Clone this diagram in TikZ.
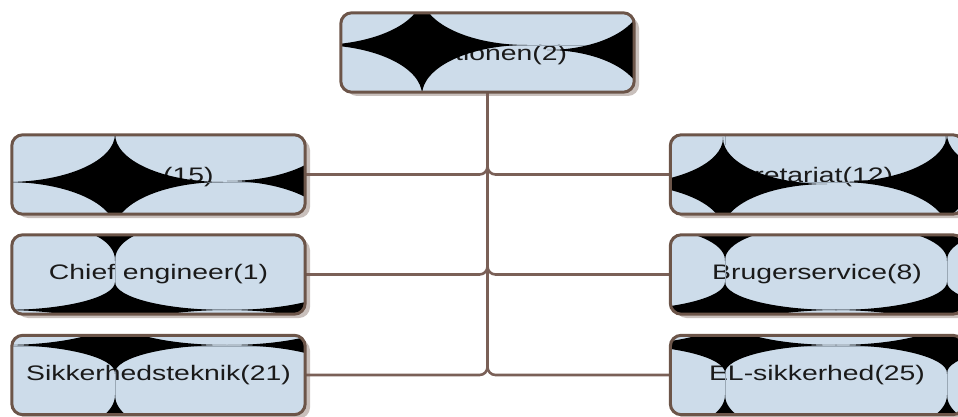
\documentclass[tikz,border=0pt]{standalone}
\usepackage{fontspec}
\setmainfont[FakeStretch=1.35]{Liberation Sans}
\usetikzlibrary{shadows}
\definecolor{boxblue}{HTML}{CDDCEA}
\definecolor{bordc}{HTML}{6C5549}
\definecolor{connc}{HTML}{7A6057}
\definecolor{shadc}{HTML}{C9C0BC}
\definecolor{thinc}{HTML}{9AA8B5}
\definecolor{textc}{HTML}{1A1A1A}
\newcommand\gapstar[4]{%
  \begin{scope}
    \clip ({#1-#3},{#2-#4}) rectangle ({#1+#3},{#2+#4});
    \fill[black, even odd rule] ({#1-#3-4},{#2-#4-4}) rectangle ({#1+#3+4},{#2+#4+4})
      ({#1-#3},{#2-#4}) ellipse [x radius=#3pt, y radius=#4pt]
      ({#1+#3},{#2-#4}) ellipse [x radius=#3pt, y radius=#4pt]
      ({#1-#3},{#2+#4}) ellipse [x radius=#3pt, y radius=#4pt]
      ({#1+#3},{#2+#4}) ellipse [x radius=#3pt, y radius=#4pt];
  \end{scope}}
\begin{document}
\begin{tikzpicture}[x=1pt,y=-1pt,
  boxnode/.style={rectangle, rounded corners=11pt, fill=boxblue, minimum width=293pt,
    minimum height=79pt, inner sep=0pt,
    drop shadow={shadow xshift=5pt, shadow yshift=-4pt, fill=shadc, opacity=1},
    font=\fontsize{21}{25}\selectfont, text=textc},
  lbl/.style={anchor=west, inner sep=0pt, font=\fontsize{21}{25}\selectfont, text=textc},
  conn/.style={draw=connc, line width=2.6pt, rounded corners=8pt},
  border/.style={draw=bordc, line width=3pt, rounded corners=11pt},
  thin/.style={draw=thinc, line width=0.6pt}]
\useasboundingbox (0,0) rectangle (958,417);

% boxes
\node[boxnode] (top) at (487.5,52.5) {};
\node[boxnode] (l1) at (158.5,174.5) {};
\node[boxnode] (r1) at (817,174.5) {};
\node[boxnode] (l2) at (158.5,274.5) {Chief engineer(1)};
\node[boxnode] (r2) at (817,274.5) {Brugerservice(8)};
\node[boxnode] (l3) at (158.5,375) {Sikkerhedsteknik(21)};
\node[boxnode] (r3) at (817,375) {EL-sikkerhed(25)};

% partially visible labels
\node[lbl] (t0) at (455,55) {tionen(2)};
\node[lbl] (t1) at (163,177) {(15)};
\node[lbl] (t2) at (740,177) {kretariat(12)};

% connectors
\draw[conn] (l1.east) -| (top.south);
\draw[conn] (r1.west) -| (top.south);
\draw[conn] (l2.east) -| (top.south);
\draw[conn] (r2.west) -| (top.south);
\draw[conn] (l3.east) -| (top.south);
\draw[conn] (r3.west) -| (top.south);

% dark artefact shapes, clipped to each box
\begin{scope}
  \clip[rounded corners=11pt] (top.south west) rectangle (top.north east);
  \draw[thin] (340,45) -- (635,45) (422,80) -- (422,92);
  \gapstar{422}{45}{105}{50}
  \gapstar{642}{50}{95}{50}
\end{scope}
\draw[border] (top.south west) rectangle (top.north east);

\begin{scope}
  \clip[rounded corners=11pt] (l1.south west) rectangle (l1.north east);
  \draw[thin] (12,182) -- (305,182) (115,135) -- (115,145);
  \gapstar{115}{182}{108}{48}
  \gapstar{332}{181}{105}{48}
\end{scope}
\draw[border] (l1.south west) rectangle (l1.north east);

\begin{scope}
  \clip[rounded corners=11pt] (r1.south west) rectangle (r1.north east);
  \draw[thin] (670,182) -- (964,182) (725,135) -- (725,145) (945,135) -- (945,145);
  \gapstar{723}{184}{104}{46}
  \gapstar{947}{182}{108}{48}
\end{scope}
\draw[border] (r1.south west) rectangle (r1.north east);

\begin{scope}
  \clip[rounded corners=11pt] (l2.south west) rectangle (l2.north east);
  \draw[thin] (115,245) -- (115,300) (12,309) -- (305,309);
  \gapstar{115}{228}{55}{32}
  \gapstar{115}{310}{112}{28}
  \gapstar{339}{310}{112}{28}
\end{scope}
\draw[border] (l2.south west) rectangle (l2.north east);

\begin{scope}
  \clip[rounded corners=11pt] (r2.south west) rectangle (r2.north east);
  \draw[thin] (725,245) -- (725,300) (947,245) -- (947,300) (670,309) -- (964,309);
  \gapstar{725}{228}{80}{32}
  \gapstar{947}{228}{80}{32}
  \gapstar{725}{310}{112}{28}
  \gapstar{947}{310}{112}{28}
\end{scope}
\draw[border] (r2.south west) rectangle (r2.north east);

\begin{scope}
  \clip[rounded corners=11pt] (l3.south west) rectangle (l3.north east);
  \draw[thin] (12,346) -- (305,346) (115,360) -- (115,405);
  \gapstar{115}{345}{112}{28}
  \gapstar{339}{345}{112}{28}
  \gapstar{115}{427}{50}{32}
\end{scope}
\draw[border] (l3.south west) rectangle (l3.north east);

\begin{scope}
  \clip[rounded corners=11pt] (r3.south west) rectangle (r3.north east);
  \draw[thin] (670,346) -- (964,346) (725,360) -- (725,405) (947,360) -- (947,405);
  \gapstar{725}{345}{112}{28}
  \gapstar{947}{345}{112}{28}
  \gapstar{725}{427}{55}{32}
  \gapstar{947}{427}{55}{32}
\end{scope}
\draw[border] (r3.south west) rectangle (r3.north east);
\end{tikzpicture}
\end{document}
